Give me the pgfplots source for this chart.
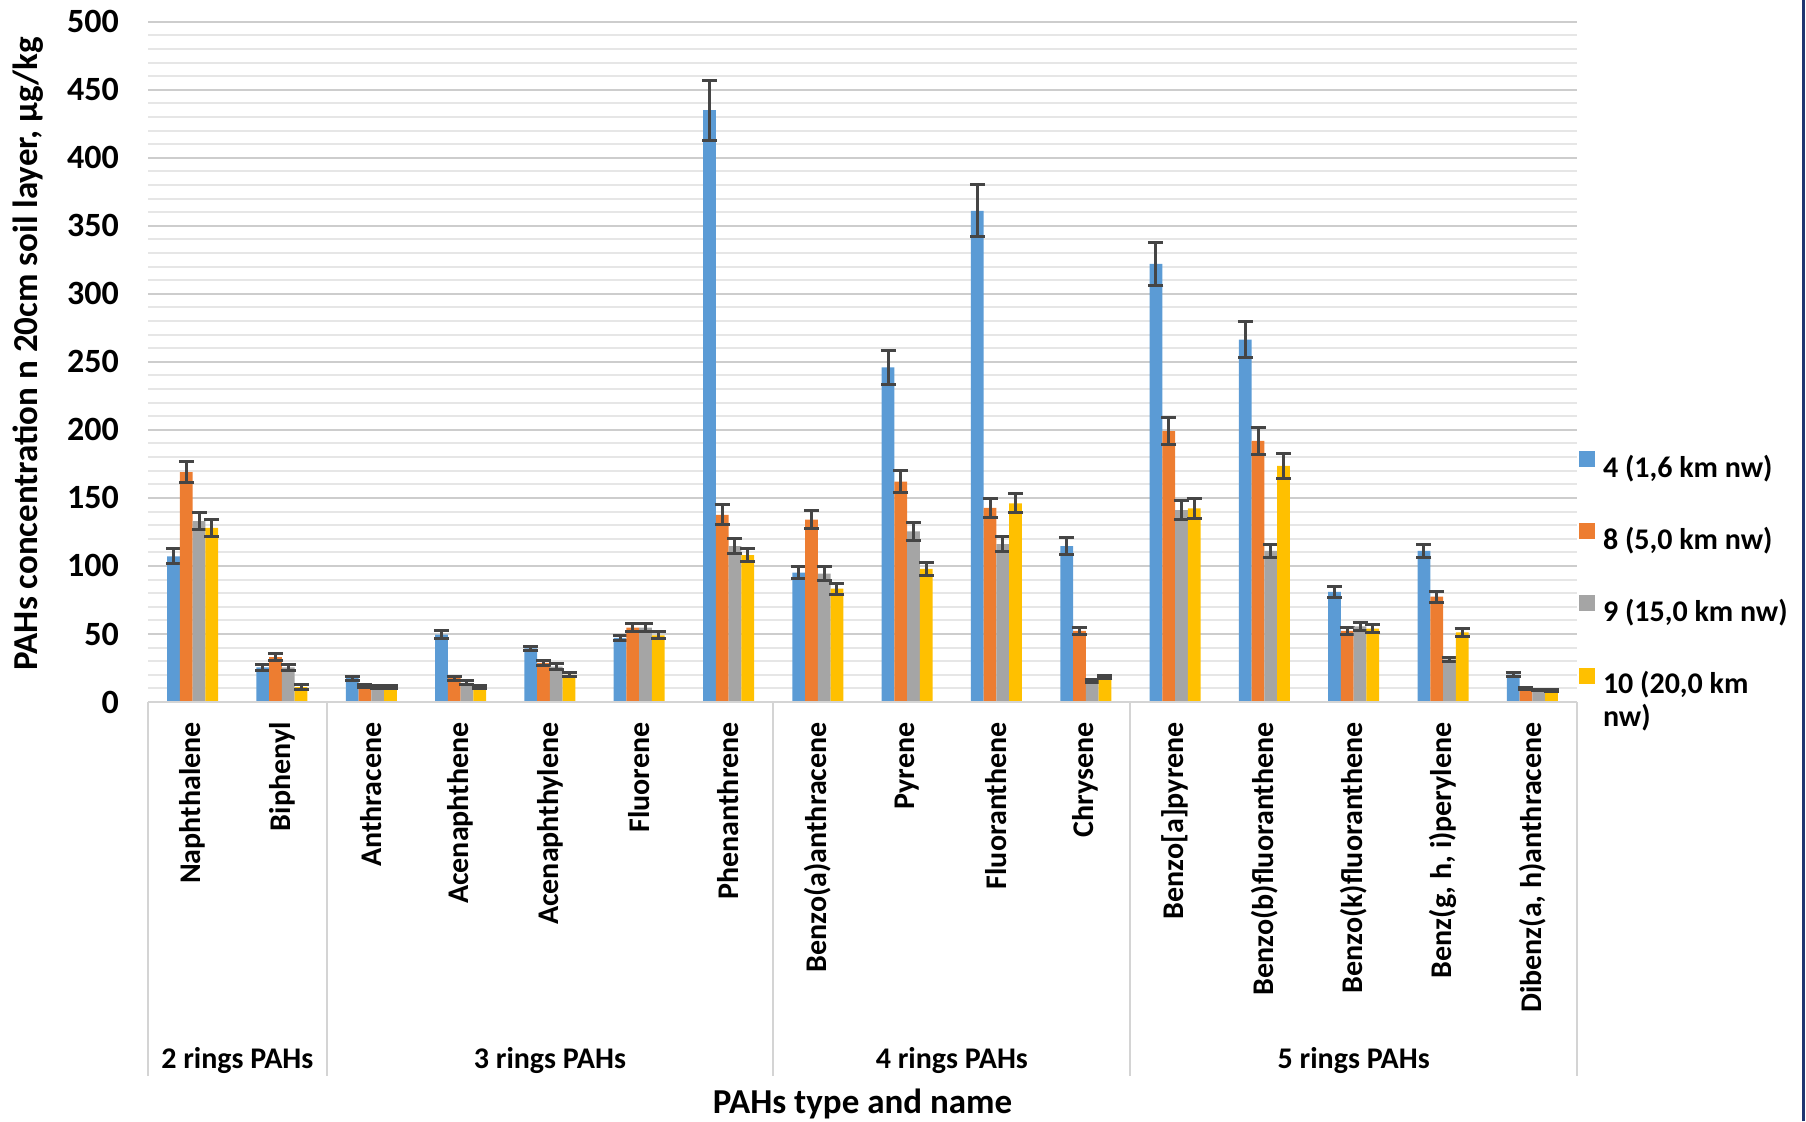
\documentclass[border=0pt]{standalone}
\usepackage{pgfplots}
\pgfplotsset{compat=1.18}
\usepackage{pgfplotstable}
\usepackage{fontspec}
\setmainfont{Carlito}
\definecolor{cA}{HTML}{5B9BD5}
\definecolor{cB}{HTML}{ED7D31}
\definecolor{cC}{HTML}{A5A5A5}
\definecolor{cD}{HTML}{FFC000}
\definecolor{errc}{HTML}{454545}
\definecolor{gridmaj}{HTML}{CDCDCD}
\definecolor{gridmin}{HTML}{E6E6E6}
\definecolor{axc}{HTML}{D4D4D4}
\definecolor{navyline}{HTML}{1F3570}

\pgfplotstableread{
x  b4    e4   b8    e8   b9    e9   b10   e10
0  107   5.5  169   8    133   6.5  128   6
1  25.5  2    33    2.5  25.5  2    11    1.5
2  17.5  1.5  12    1    11    1    11    1
3  49.5  3    17.5  1.5  14    1.5  10.8  1.2
4  39.4  1.5  28.7  2    26    2    20    1.5
5  47.2  2    54.6  3    54.6  3    49    2.5
6  435   22   137.6 7.5  114.6 5.5  108   5
7  95    4.5  134   6.5  94.4  5    83.3  4
8  246   12.5 162   8    125.4 6.5  97.8  4.5
9  361   19   142.6 7    116   5.5  146   7
10 114.6 6    52.3  2.5  15.2  1    18.5  1
11 322   16   199   10   141   7    142.3 7.5
12 266.4 13   192   10   111   5    173.6 9
13 81    4    52.3  2.5  55.6  3    54    3
14 111   5    77.5  4    31.4  1.5  51.2  3
15 20.2  1.5  10    1    9     0.5  8.4   0.5
}\data

\pgfplotsset{errsty/.style={error bars/.cd, y dir=both, y explicit,
    error bar style={line width=1.5pt, color=errc},
    error mark options={line width=1.5pt, color=errc, mark size=3.75pt, rotate=90}}}

\begin{document}
\begin{tikzpicture}
\useasboundingbox (0,0) rectangle (903pt,560.5pt);
\begin{axis}[
  at={(74pt,209.5pt)}, anchor=south west,
  scale only axis, width=714.5pt, height=340.15pt,
  ybar, bar width=0.1428,
  xmin=-0.5, xmax=15.5, ymin=0, ymax=500,
  xtick={0,...,15},
  xticklabels={Naphthalene,Biphenyl,Anthracene,Acenaphthene,Acenaphthylene,Fluorene,Phenanthrene,Benzo(a)anthracene,Pyrene,Fluoranthene,Chrysene,{Benzo[a]pyrene},Benzo(b)fluoranthene,Benzo(k)fluoranthene,{Benz(g, h, i)perylene},{Dibenz(a, h)anthracene}},
  ytick={0,50,...,500}, minor ytick={10,20,...,490},
  ymajorgrids, yminorgrids,
  major grid style={draw=gridmaj, line width=1pt},
  minor grid style={draw=gridmin, line width=1pt},
  axis line style={draw=none},
  tick style={draw=none},
  major tick length=0pt, minor tick length=0pt,
  /pgf/number format/assume math mode=true,
  yticklabel style={font=\fontsize{17}{20}\selectfont\bfseries, anchor=east, xshift=-11pt},
  xticklabel style={font=\fontsize{15}{18}\selectfont\bfseries, rotate=90, anchor=east, inner xsep=10pt, inner ysep=0pt},
  ylabel={PAHs concentration n 20cm soil layer, μg/kg},
  every axis y label/.style={at={([xshift=-59.75pt]rel axis cs:0,0.512)}, rotate=90, anchor=center, font=\fontsize{17.5}{20}\selectfont\bfseries},
  xlabel={PAHs type and name},
  every axis x label/.style={at={([yshift=-205.5pt]rel axis cs:0.5,0)}, anchor=base, font=\fontsize{17.5}{20}\selectfont\bfseries},
  clip=false,
  legend cell align=left,
  legend style={at={([xshift=1pt,yshift=125.5pt]rel axis cs:1,0)}, anchor=north west, draw=none, fill=none, inner sep=0pt, outer sep=0pt, row sep=20.1pt, column sep=4pt, font=\fontsize{15}{16.5}\selectfont\bfseries, nodes={inner sep=0pt, text height=11pt, text depth=3pt}},
  legend image code/.code={\fill[#1, draw=none] (0pt,1pt) rectangle (8pt,9pt);},
]
\addplot[fill=cA, draw=none, bar shift=-0.2142, errsty] table[x=x, y=b4, y error=e4] {\data};
\addplot[fill=cB, draw=none, bar shift=-0.0714, errsty] table[x=x, y=b8, y error=e8] {\data};
\addplot[fill=cC, draw=none, bar shift=0.0714, errsty] table[x=x, y=b9, y error=e9] {\data};
\addplot[fill=cD, draw=none, bar shift=0.2142, errsty] table[x=x, y=b10, y error=e10] {\data};
\addlegendentry{4 (1,6 km nw)}
\addlegendentry{8 (5,0 km nw)}
\addlegendentry{9 (15,0 km nw)}
\addlegendentry{\vtop{\hbox{10 (20,0 km}\hbox{nw)}}}
\draw[axc, line width=1pt] (axis cs:-0.5,0) -- (axis cs:15.5,0);
\draw[axc, line width=1pt] (axis cs:-0.5,0) -- ([yshift=-187pt]axis cs:-0.5,0);
\draw[axc, line width=1pt] (axis cs:1.5,0) -- ([yshift=-187pt]axis cs:1.5,0);
\draw[axc, line width=1pt] (axis cs:6.5,0) -- ([yshift=-187pt]axis cs:6.5,0);
\draw[axc, line width=1pt] (axis cs:10.5,0) -- ([yshift=-187pt]axis cs:10.5,0);
\draw[axc, line width=1pt] (axis cs:15.5,0) -- ([yshift=-187pt]axis cs:15.5,0);
\node[anchor=base, font=\fontsize{15}{18}\selectfont\bfseries] at ([yshift=-183pt]axis cs:0.5,0) {2 rings PAHs};
\node[anchor=base, font=\fontsize{15}{18}\selectfont\bfseries] at ([yshift=-183pt]axis cs:4,0) {3 rings PAHs};
\node[anchor=base, font=\fontsize{15}{18}\selectfont\bfseries] at ([yshift=-183pt]axis cs:8.5,0) {4 rings PAHs};
\node[anchor=base, font=\fontsize{15}{18}\selectfont\bfseries] at ([yshift=-183pt]axis cs:13,0) {5 rings PAHs};
\end{axis}
\draw[navyline, line width=1.2pt] (901.8pt,0) -- (901.8pt,560.5pt);
\end{tikzpicture}
\end{document}
